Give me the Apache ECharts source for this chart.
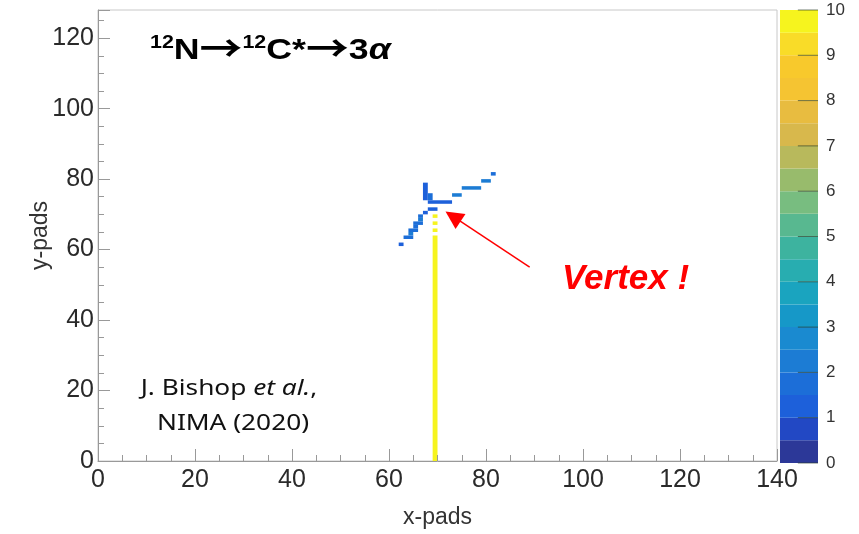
<!DOCTYPE html>
<html><head><meta charset="utf-8">
<script src="https://cdn.jsdelivr.net/npm/echarts@6/dist/echarts.min.js"></script>
<style>html,body{margin:0;padding:0;background:#fff}#c{width:859px;height:534px}</style>
</head><body><div id="c"></div>
<script>
// axis ranges
const xRange = [0, 140];
const yRange = [0, 128];
const zRange = [0, 10];
const zTicks = [0, 1, 2, 3, 4, 5, 6, 7, 8, 9, 10];
// cell runs: [xStart, xEnd, yStart, yEnd, charge]
const beamRuns = [
  [69, 70, 0, 64, 9.8],
  [69, 70, 65, 66, 9.8],
  [69, 70, 67, 68, 9.8],
  [69, 70, 69, 70, 9.8]
];
const vertexRuns = [
  [67, 68, 74, 79, 1.2],
  [68, 69, 74, 76, 1.6],
  [68, 73, 73, 74, 1.3],
  [68, 70, 71, 72, 1.4]
];
const upperRightRuns = [
  [73, 75, 75, 76, 2.2],
  [75, 79, 77, 78, 2.3],
  [79, 81, 79, 80, 2.1],
  [81, 82, 81, 82, 1.8]
];
const lowerLeftRuns = [
  [67, 68, 70, 71, 1.4],
  [66, 67, 69, 70, 1.5],
  [66, 67, 68, 69, 2.0],
  [65, 67, 67, 68, 1.6],
  [65, 66, 66, 67, 1.9],
  [64, 66, 65, 66, 1.5],
  [64, 65, 64, 65, 2.2],
  [63, 65, 63, 64, 1.7],
  [62, 63, 61, 62, 1.3]
];
// colour bands (0..10 in steps of 0.5), bottom to top
const bandColors = [
  '#2c3898', '#2248c4', '#1d60da', '#1c6ed8', '#1c7cd4',
  '#1a8ad0', '#1698c8', '#1aa4bf', '#28adb0', '#3db39f',
  '#58b890', '#78bd80', '#98bb6c', '#b8b95c', '#d8b84c',
  '#e8bc40', '#f5c432', '#f8c92c', '#f9dc28', '#f6f41e'
];
// annotation arrow (data coordinates)
const arrowFrom = [89.0, 55.0];
const arrowTo = [73.2, 69.4];

const cells = [].concat(beamRuns, vertexRuns, upperRightRuns, lowerLeftRuns);
const bandStep = (zRange[1] - zRange[0]) / bandColors.length;
const bandCells = bandColors.map((c, k) => [0, 1, k * bandStep, (k + 1) * bandStep, k * bandStep + bandStep / 2]);
const pieces = bandColors.map((c, k) => ({ gte: k * bandStep, lt: (k + 1) * bandStep + (k === bandColors.length - 1 ? 1 : 0), color: c }));

function renderRect(params, api) {
  const p0 = api.coord([api.value(0), api.value(3)]);
  const p1 = api.coord([api.value(1), api.value(2)]);
  return {
    type: 'rect',
    shape: { x: p0[0], y: p0[1], width: p1[0] - p0[0], height: p1[1] - p0[1] },
    style: { fill: api.visual('color') }
  };
}
function renderTick(params, api) {
  const a = api.coord([0.47, api.value(0)]);
  const b = api.coord([1, api.value(0)]);
  return {
    type: 'line',
    shape: { x1: a[0], y1: a[1], x2: b[0], y2: b[1] },
    style: { stroke: 'rgba(40,60,40,0.65)', lineWidth: 1 }
  };
}

const FONT = '"Liberation Sans", Arial, Helvetica, sans-serif';
const chart = echarts.init(document.getElementById('c'), null, { renderer: 'canvas' });
chart.setOption({
  animation: false,
  backgroundColor: '#fff',
  grid: [
    { left: 98, top: 10, width: 679, height: 452, show: true, borderColor: '#c8c8c8', borderWidth: 1, backgroundColor: 'transparent' },
    { left: 780, top: 10, width: 38, height: 453, show: false }
  ],
  xAxis: [
    {
      type: 'value', gridIndex: 0, min: xRange[0], max: xRange[1], interval: 20,
      name: 'x-pads', nameLocation: 'middle', nameGap: 45, nameMoveOverlap: false,
      nameTextStyle: { fontFamily: FONT, fontSize: 23, color: '#333' },
      axisLine: { show: true, onZero: false, lineStyle: { color: '#999', width: 1 } },
      axisTick: { show: true, inside: true, length: 12, lineStyle: { color: '#999' } },
      minorTick: { show: true, splitNumber: 4, length: 6, lineStyle: { color: '#999' } },
      axisLabel: { fontFamily: FONT, fontSize: 25, color: '#2a2a2a', margin: 7 },
      splitLine: { show: false }, z: 10
    },
    { type: 'value', gridIndex: 1, min: 0, max: 1, show: false }
  ],
  yAxis: [
    {
      type: 'value', gridIndex: 0, min: yRange[0], max: yRange[1], interval: 20,
      name: 'y-pads', nameLocation: 'middle', nameGap: 46, nameRotate: 90, nameMoveOverlap: false,
      nameTextStyle: { fontFamily: FONT, fontSize: 23, color: '#333' },
      axisLine: { show: true, onZero: false, lineStyle: { color: '#999', width: 1 } },
      axisTick: { show: true, inside: true, length: 12, lineStyle: { color: '#999' } },
      minorTick: { show: true, splitNumber: 4, length: 6, lineStyle: { color: '#999' } },
      axisLabel: { fontFamily: FONT, fontSize: 25, color: '#2a2a2a', margin: 4, showMaxLabel: false,
        formatter: v => (v % 20 === 0 ? String(v) : '') },
      splitLine: { show: false }, z: 10
    },
    {
      type: 'value', gridIndex: 1, min: zRange[0], max: zRange[1], interval: 1, position: 'right',
      axisLine: { show: false },
      axisTick: { show: false },
      axisLabel: { fontFamily: FONT, fontSize: 17, color: '#333', margin: 8 },
      splitLine: { show: false }
    }
  ],
  visualMap: {
    type: 'piecewise', show: false, dimension: 4, seriesIndex: [0, 1],
    pieces: pieces
  },
  series: [
    {
      type: 'custom', xAxisIndex: 0, yAxisIndex: 0, renderItem: renderRect,
      encode: { x: [0, 1], y: [2, 3] }, data: cells, z: 2
    },
    {
      type: 'custom', xAxisIndex: 1, yAxisIndex: 1, renderItem: renderRect,
      encode: { x: [0, 1], y: [2, 3] }, data: bandCells, z: 2
    },
    {
      type: 'custom', xAxisIndex: 1, yAxisIndex: 1, renderItem: renderTick,
      encode: { y: 0 }, data: zTicks.map(v => [v]), z: 3
    },
    {
      type: 'lines', coordinateSystem: 'cartesian2d', xAxisIndex: 0, yAxisIndex: 0,
      symbol: ['none', 'triangle'], symbolSize: [0, 18],
      lineStyle: { color: '#ff0000', width: 1.5, opacity: 1 },
      itemStyle: { color: '#ff0000' },
      data: [{ coords: [arrowFrom, arrowTo] }], z: 5, silent: true
    }
  ],
  graphic: [
    {
      type: 'text', x: 150, y: 34, scaleX: 1.19, z: 20,
      style: {
        text: '{s|12}{b|N}{r|→}{s|12}{b|C*}{r|→}{b|3}{a|α}',
        rich: {
          b: { fontFamily: FONT, fontWeight: 'bold', fontSize: 30, fill: '#000', lineHeight: 32, verticalAlign: 'bottom' },
          r: { fontFamily: '"Noto Sans CJK KR"', fontWeight: 'bold', fontSize: 36, fill: '#000', lineHeight: 32, verticalAlign: 'bottom' },
          a: { fontFamily: FONT, fontWeight: 'bold', fontStyle: 'italic', fontSize: 30, fill: '#000', lineHeight: 32, verticalAlign: 'bottom' },
          s: { fontFamily: FONT, fontWeight: 'bold', fontSize: 18, fill: '#000', lineHeight: 18, verticalAlign: 'top' }
        }
      }
    },
    {
      type: 'text', left: 562, top: 262, z: 20,
      style: { text: 'Vertex !', fontFamily: FONT, fontWeight: 'bold', fontStyle: 'italic', fontSize: 35, fill: '#ff0000' }
    },
    {
      type: 'text', x: 229, y: 389, scaleX: 1.25, z: 20,
      style: {
        text: '{n|J. Bishop }{i|et al.}{n|,}', align: 'center', verticalAlign: 'middle',
        rich: {
          n: { fontFamily: '"Noto Sans", sans-serif', fontSize: 21, fill: '#111' },
          i: { fontFamily: '"Noto Sans", sans-serif', fontStyle: 'italic', fontSize: 21, fill: '#111' }
        }
      }
    },
    {
      type: 'text', x: 233, y: 424, scaleX: 1.25, z: 20,
      style: { text: 'NIMA (2020)', align: 'center', verticalAlign: 'middle', fontFamily: '"Noto Sans", sans-serif', fontSize: 21, fill: '#111' }
    }
  ]
});
</script></body></html>
